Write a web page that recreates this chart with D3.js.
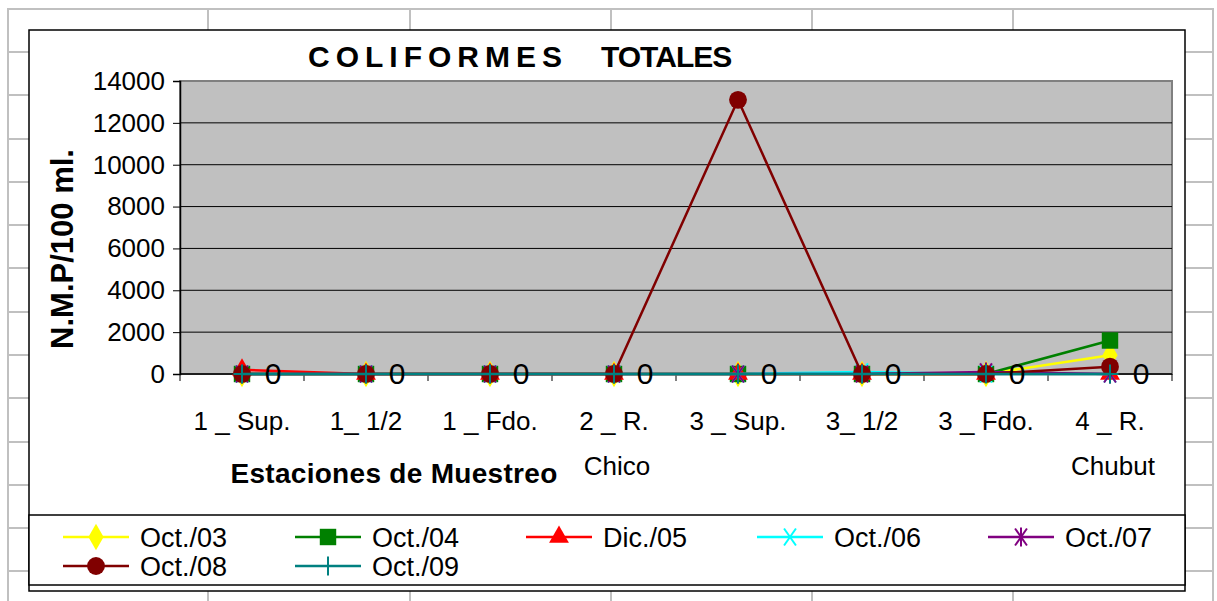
<!DOCTYPE html>
<html>
<head>
<meta charset="utf-8">
<script src="https://cdn.jsdelivr.net/npm/d3@7"></script>
<style>
  body { margin: 0; background: #fff; }
  svg { display: block; font-family: "Liberation Sans", Arial, sans-serif; }
</style>
</head>
<body>
<div id="chart-section"></div>
<script>
// categories (sampling stations)
var estaciones = ["1 _ Sup.", "1_ 1/2", "1 _ Fdo.", "2 _ R. Chico", "3 _ Sup.", "3_ 1/2", "3 _ Fdo.", "4 _ R. Chubut"];

// series values, N.M.P/100 ml.
var oct03 = [0, 0, 0, 0, 0, 0, 0, 900];
var oct04 = [0, 0, 0, 0, 0, 0, 0, 1600];
var dic05 = [200, 0, 0, 0, 0, 0, 0, 0];
var oct06 = [0, 0, 0, 0, 0, 100, 0, 0];
var oct07 = [0, 0, 0, 0, 0, 0, 100, 0];
var oct08 = [0, 0, 0, 0, 13100, 0, 0, 350];
var oct09 = [0, 0, 0, 0, 0, 0, 0, 0];

var seriesNames = ["Oct./03", "Oct./04", "Dic./05", "Oct./06", "Oct./07", "Oct./08", "Oct./09"];
var yTicks = [0, 2000, 4000, 6000, 8000, 10000, 12000, 14000];

var W = 1217, H = 601;
var plot = {left: 180, right: 1172, top: 81, bottom: 374};

var series = [
  {name: seriesNames[0], values: oct03, color: "#ffff00", symbol: "diamond"},
  {name: seriesNames[1], values: oct04, color: "#008000", symbol: "square"},
  {name: seriesNames[2], values: dic05, color: "#ff0000", symbol: "triangle"},
  {name: seriesNames[3], values: oct06, color: "#00ffff", symbol: "x"},
  {name: seriesNames[4], values: oct07, color: "#800080", symbol: "star"},
  {name: seriesNames[5], values: oct08, color: "#800000", symbol: "circle"},
  {name: seriesNames[6], values: oct09, color: "#008080", symbol: "plus", labels: true}
];

var svg = d3.select("#chart-section")
  .append("svg")
  .attr("width", W)
  .attr("height", H);

// spreadsheet cells behind the chart
var grid = svg.append("g").attr("stroke", "#c0c0c0").attr("stroke-width", 2);
grid.append("rect").attr("x", 8).attr("y", 9).attr("width", 1205).attr("height", 600).attr("fill", "none");
[208, 410, 611, 812, 1013].forEach(function(x) {
  grid.append("line").attr("x1", x).attr("x2", x).attr("y1", 9).attr("y2", H);
});
[52, 95, 139, 182, 225, 268, 312, 355, 398, 442, 485, 528, 571].forEach(function(y) {
  grid.append("line").attr("x1", 8).attr("x2", 1213).attr("y1", y).attr("y2", y);
});

// chart frame
svg.append("rect")
  .attr("x", 29).attr("y", 30).attr("width", 1156).attr("height", 561)
  .attr("fill", "#fff").attr("stroke", "#000").attr("stroke-width", 1.5);

var xscale = d3.scalePoint()
  .domain(estaciones)
  .range([plot.left, plot.right])
  .padding(0.5);

var yscale = d3.scaleLinear()
  .domain([0, 14000])
  .range([plot.bottom, plot.top]);

// plot area
svg.append("rect")
  .attr("x", plot.left).attr("y", plot.top)
  .attr("width", plot.right - plot.left).attr("height", plot.bottom - plot.top)
  .attr("fill", "#c0c0c0").attr("stroke", "#808080").attr("stroke-width", 2);

// gridlines
svg.append("g")
  .selectAll("line")
  .data(yTicks.filter(function(d) { return d > 0 && d < 14000; }))
  .enter()
  .append("line")
  .attr("x1", plot.left).attr("x2", plot.right)
  .attr("y1", d => yscale(d)).attr("y2", d => yscale(d))
  .attr("stroke", "#000").attr("stroke-width", 1);

// y axis
var yAxis = svg.append("g")
  .attr("transform", "translate(" + plot.left + ",0)")
  .call(d3.axisLeft(yscale).tickValues(yTicks).tickSize(7).tickPadding(8).tickFormat(d3.format("d")));
yAxis.select(".domain").attr("stroke", "#000").attr("stroke-width", 1.5);
yAxis.selectAll(".tick line").attr("stroke", "#000");
yAxis.selectAll("text").attr("font-size", 26).attr("font-family", "Liberation Sans").attr("fill", "#000");

// x axis: ticks between categories
var step = xscale.step();
var bounds = d3.range(estaciones.length + 1).map(i => plot.left + i * step);
svg.append("line")
  .attr("x1", plot.left).attr("x2", plot.right)
  .attr("y1", plot.bottom).attr("y2", plot.bottom)
  .attr("stroke", "#000").attr("stroke-width", 1.5);
svg.append("g").selectAll("line")
  .data(bounds).enter().append("line")
  .attr("x1", d => d).attr("x2", d => d)
  .attr("y1", plot.bottom).attr("y2", plot.bottom + 7)
  .attr("stroke", "#000");

// category labels, wrapped to the category width
var catLabels = svg.append("g").selectAll("text")
  .data(estaciones).enter().append("text")
  .attr("x", d => xscale(d))
  .attr("y", 430)
  .attr("text-anchor", "middle")
  .attr("font-size", 26)
  .attr("fill", "#000")
  .text(d => d);
catLabels.each(function(d) {
  var t = d3.select(this);
  if (this.getComputedTextLength() > step - 8) {
    var words = d.split(" ");
    var first = words.slice(0, 3).join(" ");
    var rest = words.slice(3).join(" ");
    t.text(null);
    t.append("tspan").attr("x", xscale(d)).text(first);
    t.append("tspan").attr("x", xscale(d) + 3).attr("dy", 45).text(rest);
  }
});

// symbols
function sym(type, size) {
  var map = {
    diamond: d3.symbolDiamond, square: d3.symbolSquare, triangle: d3.symbolTriangle,
    circle: d3.symbolCircle
  };
  return d3.symbol().type(map[type]).size(size)();
}
function drawMarker(g, s, x, y) {
  if (s.symbol == "x" || s.symbol == "star" || s.symbol == "plus") {
    var r = 8.5;
    var m = g.append("g").attr("transform", "translate(" + x + "," + y + ")")
      .attr("stroke", s.color).attr("stroke-width", 2);
    if (s.symbol != "plus") {
      m.append("line").attr("x1", -r * 0.7).attr("y1", -r).attr("x2", r * 0.7).attr("y2", r);
      m.append("line").attr("x1", -r * 0.7).attr("y1", r).attr("x2", r * 0.7).attr("y2", -r);
    }
    if (s.symbol != "x") {
      m.append("line").attr("x1", 0).attr("y1", -r - 1).attr("x2", 0).attr("y2", r + 1);
      if (s.symbol == "plus") m.append("line").attr("x1", -r).attr("y1", 0).attr("x2", r).attr("y2", 0);
    }
  } else {
    var size = s.symbol == "square" ? 270 : s.symbol == "circle" ? 250 : s.symbol == "diamond" ? 200 : 170;
    g.append("path")
      .attr("d", sym(s.symbol, size))
      .attr("transform", "translate(" + x + "," + y + ")")
      .attr("fill", s.color);
  }
}

var line = d3.line()
  .x((d, i) => xscale(estaciones[i]))
  .y(d => yscale(d));

var chart = svg.append("g");
series.forEach(function(s) {
  var g = chart.append("g");
  g.append("path")
    .attr("d", line(s.values))
    .attr("fill", "none")
    .attr("stroke", s.color)
    .attr("stroke-width", 2.5);
  s.values.forEach(function(v, i) {
    drawMarker(g, s, xscale(estaciones[i]), yscale(v));
  });
  if (s.labels) {
    g.selectAll("text").data(s.values).enter().append("text")
      .attr("x", (d, i) => xscale(estaciones[i]) + 31)
      .attr("y", d => yscale(d) + 10)
      .attr("text-anchor", "middle")
      .attr("font-size", 30)
      .attr("fill", "#000")
      .text(d => d);
  }
});

// title
var title = svg.append("text")
  .attr("x", 308).attr("y", 67)
  .attr("font-size", 30).attr("font-weight", "bold").attr("fill", "#000");
title.append("tspan").attr("letter-spacing", 6).text("COLIFORMES");
title.append("tspan").attr("x", 601).attr("letter-spacing", -1).text("TOTALES");

// axis titles
svg.append("text")
  .attr("transform", "translate(73,249) rotate(-90)")
  .attr("text-anchor", "middle")
  .attr("font-size", 31).attr("font-weight", "bold")
  .text("N.M.P/100 ml.");
svg.append("text")
  .attr("x", 394).attr("y", 483)
  .attr("text-anchor", "middle")
  .attr("font-size", 28).attr("font-weight", "bold")
  .attr("letter-spacing", 0.3)
  .text("Estaciones de Muestreo");

// legend
svg.append("rect")
  .attr("x", 29).attr("y", 515).attr("width", 1156).attr("height", 70)
  .attr("fill", "#fff").attr("stroke", "#000").attr("stroke-width", 1.5);
var legCols = [63, 295, 526, 757, 988];
var legRows = [537, 566];
series.forEach(function(s, i) {
  var x0 = legCols[i % 5], y0 = legRows[Math.floor(i / 5)];
  var g = svg.append("g");
  g.append("line").attr("x1", x0).attr("x2", x0 + 66).attr("y1", y0).attr("y2", y0)
    .attr("stroke", s.color).attr("stroke-width", 2.5);
  drawMarker(g, s, x0 + 33, y0);
  g.append("text").attr("x", x0 + 77).attr("y", y0 + 10)
    .attr("font-size", 27).attr("fill", "#000").text(s.name);
});
</script>
</body>
</html>
